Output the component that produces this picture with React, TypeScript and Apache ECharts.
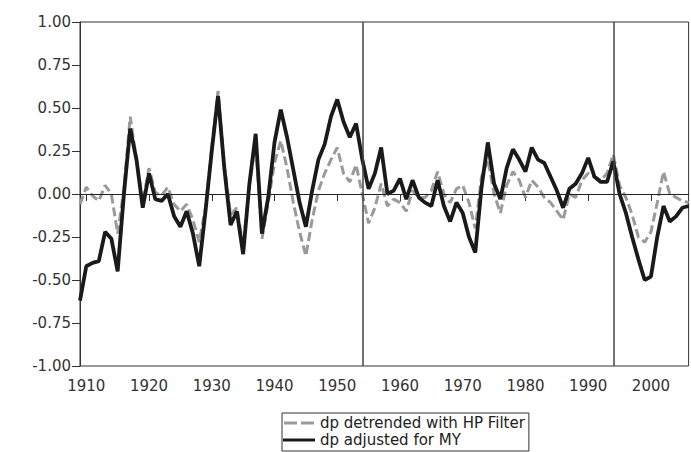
import React, { useEffect, useRef } from "react";
import * as echarts from "echarts";

const FIRST_YEAR = 1909;
const LAST_YEAR = 2006;
const years: string[] = [];
for (let y = FIRST_YEAR; y <= LAST_YEAR; y++) years.push(String(y));

// dp detrended with HP Filter (grey dashed)
const hpFilter: number[] = [
  -0.06,
  0.04, -0.01, -0.04, 0.05, 0.0, -0.23, 0.03, 0.45, 0.2, -0.05,
  0.15, 0.01, -0.01, 0.04, -0.06, -0.1, -0.06, -0.15, -0.28, -0.08,
  0.27, 0.6, 0.17, -0.12, -0.08, -0.3, 0.05, 0.3, -0.26, -0.05,
  0.18, 0.31, 0.15, -0.05, -0.22, -0.36, -0.15, 0.02, 0.12, 0.2,
  0.27, 0.12, 0.07, 0.17, 0.0, -0.17, -0.08, 0.06, -0.07, -0.03,
  -0.05, -0.1, 0.02, -0.02, -0.02, 0.02, 0.13, 0.0, -0.05, 0.03,
  0.05, -0.05, -0.2, 0.1, 0.2, 0.0, -0.11, 0.05, 0.13, 0.08,
  -0.02, 0.08, 0.04, -0.02, -0.05, -0.1, -0.15, 0.0, -0.02, 0.08,
  0.12, 0.1, 0.08, 0.12, 0.23, 0.05, -0.02, -0.12, -0.25, -0.28,
  -0.22, -0.05, 0.13, 0.0, -0.02, -0.04, -0.05,
];

// dp adjusted for MY (black solid)
const adjustedMY: number[] = [
  -0.62,
  -0.42, -0.4, -0.39, -0.22, -0.26, -0.45, 0.0, 0.38, 0.2, -0.08,
  0.12, -0.03, -0.04, 0.0, -0.13, -0.19, -0.1, -0.23, -0.42, -0.1,
  0.25, 0.57, 0.15, -0.18, -0.1, -0.35, 0.06, 0.35, -0.23, -0.02,
  0.3, 0.49, 0.33, 0.14, -0.05, -0.19, 0.02, 0.2, 0.29, 0.45,
  0.55, 0.42, 0.33, 0.41, 0.2, 0.03, 0.12, 0.27, 0.0, 0.02,
  0.09, -0.03, 0.08, -0.02, -0.05, -0.07, 0.08, -0.07, -0.16, -0.05,
  -0.11, -0.25, -0.34, 0.04, 0.3, 0.06, -0.03, 0.15, 0.26, 0.2,
  0.13, 0.27, 0.2, 0.18, 0.1, 0.02, -0.08, 0.03, 0.06, 0.12,
  0.21, 0.1, 0.07, 0.07, 0.19, 0.0, -0.11, -0.25, -0.38, -0.5,
  -0.48, -0.25, -0.07, -0.16, -0.13, -0.08, -0.07,
];

const breakYears = ["1954", "1994"];
const seriesNames = ["dp detrended with HP Filter", "dp adjusted for MY"];

const FONT = "DejaVu Sans";

export default function App() {
  const ref = useRef<HTMLDivElement>(null);
  useEffect(() => {
    document.body.style.margin = "0";
    if (!ref.current) return;
    const chart = echarts.init(ref.current, null, { renderer: "svg" });
    const isDecade = (_i: number, v: string) => Number(v) % 10 === 0;
    chart.setOption({
      animation: false,
      backgroundColor: "#ffffff",
      grid: {
        left: 80,
        right: 2.4,
        top: 22,
        bottom: 86,
        show: true,
        borderColor: "#333",
        borderWidth: 1,
        backgroundColor: "transparent",
      },
      legend: {
        orient: "vertical",
        left: 282,
        top: 413,
        padding: [2, 4, 3, 1],
        itemGap: 1,
        itemWidth: 32,
        itemHeight: 3,
        borderColor: "#333",
        borderWidth: 1,
        textStyle: {
          fontFamily: FONT,
          fontSize: 15,
          lineHeight: 16,
          color: "#222",
        },
        data: [
          {
            name: seriesNames[0],
            icon: "path://M0,0h13v3h-13z M17,0h13v3h-13z",
            itemStyle: { color: "#9a9a9a" },
          },
          {
            name: seriesNames[1],
            icon: "path://M0,0h32v3h-32z",
            itemStyle: { color: "#1a1a1a" },
          },
        ],
      },
      xAxis: {
        type: "category",
        data: years,
        boundaryGap: false,
        axisLine: { lineStyle: { color: "#333", width: 1 } },
        axisTick: { show: true, interval: isDecade, length: 7, lineStyle: { color: "#333" } },
        axisLabel: {
          interval: isDecade,
          fontFamily: FONT,
          fontSize: 15,
          color: "#333",
          margin: 12,
        },
        splitLine: { show: false },
      },
      yAxis: {
        type: "value",
        min: -1,
        max: 1,
        interval: 0.25,
        axisLine: { show: true, lineStyle: { color: "#333", width: 1 } },
        axisTick: { show: true, length: 8, lineStyle: { color: "#333" } },
        axisLabel: {
          fontFamily: FONT,
          fontSize: 15,
          color: "#333",
          margin: 9,
          formatter: (v: number) => v.toFixed(2),
        },
        splitLine: { show: false },
      },
      series: [
        {
          name: seriesNames[0],
          type: "line",
          data: hpFilter,
          symbol: "none",
          lineStyle: { color: "#9a9a9a", width: 3, type: [9, 4] },
          itemStyle: { color: "#9a9a9a" },
          z: 2,
          markLine: {
            silent: true,
            symbol: "none",
            label: { show: false },
            lineStyle: { color: "#222", width: 1, type: "solid" },
            data: [{ yAxis: 0 }],
          },
        },
        {
          name: seriesNames[1],
          type: "line",
          data: adjustedMY,
          symbol: "none",
          lineStyle: { color: "#1a1a1a", width: 3.8, type: "solid" },
          itemStyle: { color: "#1a1a1a" },
          z: 3,
          markLine: {
            silent: true,
            symbol: "none",
            label: { show: false },
            lineStyle: { color: "#444", width: 1.5, type: "solid" },
            data: breakYears.map((y) => ({ xAxis: y })),
          },
        },
      ],
    });
    return () => chart.dispose();
  }, []);
  return <div ref={ref} style={{ width: 691, height: 452 }} />;
}
